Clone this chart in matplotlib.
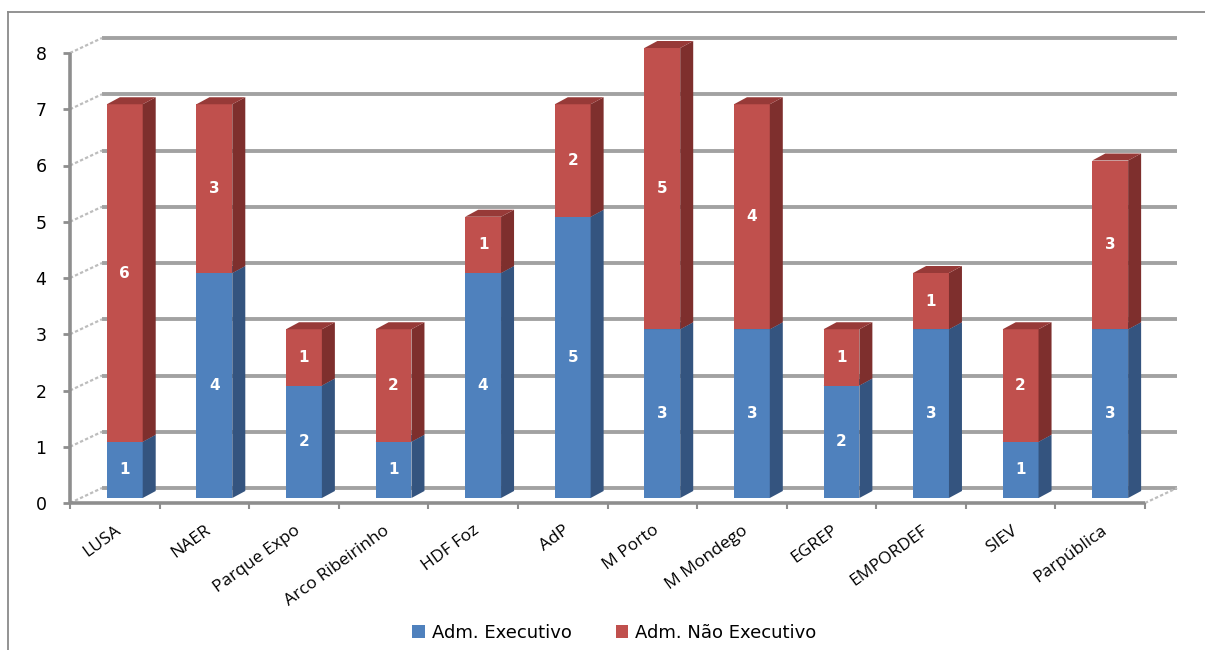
import matplotlib
matplotlib.use('Agg')
import matplotlib.pyplot as plt
import matplotlib.transforms as mtransforms
from matplotlib.patches import Polygon, Rectangle
from matplotlib.lines import Line2D
import numpy as np

# ---------------- data ----------------
categories = ['LUSA', 'NAER', 'Parque Expo', 'Arco Ribeirinho', 'HDF Foz', 'AdP',
              'M Porto', 'M Mondego', 'EGREP', 'EMPORDEF', 'SIEV', 'Parpública']
executivo = [1, 4, 2, 1, 4, 5, 3, 3, 2, 3, 1, 3]
nao_executivo = [6, 3, 1, 2, 1, 2, 5, 4, 1, 1, 2, 3]
series_names = ['Adm. Executivo', 'Adm. Não Executivo']
y_ticks = [0, 1, 2, 3, 4, 5, 6, 7, 8]

# ---------------- style ----------------
W, H = 1205, 650
DPI = 100
front_cols = ['#4F81BD', '#C0504D']
side_cols = ['#34547F', '#7E2F2D']
top_cols = ['#3F6798', '#973A38']
grid_col = '#A2A2A2'
axis_col = '#8E8E8E'

fig = plt.figure(figsize=(W / DPI, H / DPI), dpi=DPI)
ax = fig.add_axes([70 / W, 1 - 503 / H, 1075 / W, 450 / H])
n = len(categories)
ax.set_xlim(-0.5, n - 0.5)
ax.set_ylim(0, max(y_ticks))
for s in ax.spines.values():
    s.set_visible(False)

# pixel-per-unit to derive depth offsets in data units
px_x = 1075 / n
px_y = 450 / max(y_ticks)

def px_off(dx, dy):
    return mtransforms.ScaledTranslation(dx / DPI, dy / DPI, fig.dpi_scale_trans)

# back wall gridlines
wall_dx, wall_dy = 32, 15
back_tr = ax.transData + px_off(wall_dx, wall_dy)
for yv in y_ticks:
    ax.add_line(Line2D([-0.5, n - 0.5], [yv, yv], transform=back_tr, color=grid_col,
                       lw=2.8, zorder=0.5, clip_on=False, solid_capstyle='butt'))
    # left wall depth lines
    ax.add_line(Line2D([-0.5, -0.5 + wall_dx / px_x], [yv, yv + wall_dy / px_y],
                       transform=ax.transData, color='#BDBDBD', lw=1.6,
                       ls=(0, (1.5, 1)), zorder=0.6, clip_on=False))
# right floor depth line
ax.add_line(Line2D([n - 0.5, n - 0.5 + wall_dx / px_x], [0, wall_dy / px_y],
                   transform=ax.transData, color='#BDBDBD', lw=1.6,
                   ls=(0, (1.5, 1)), zorder=0.6, clip_on=False))

# front axes lines
ax.add_line(Line2D([-0.5, -0.5], [0, max(y_ticks)], color=axis_col, lw=2.6,
                   zorder=3, clip_on=False, solid_capstyle='butt'))
ax.add_line(Line2D([-0.5, n - 0.5], [0, 0], color=axis_col, lw=2.6,
                   zorder=3, clip_on=False, solid_capstyle='butt'))

# bars (3D look)
bar_tr = ax.transData + px_off(10, 5)
x = np.arange(n)
bw = 0.40
ddx, ddy = 13 / px_x, 7 / px_y
bottoms = np.zeros(n)
for k, vals in enumerate([executivo, nao_executivo]):
    vals = np.array(vals, dtype=float)
    ax.bar(x, vals, bw, bottom=bottoms, color=front_cols[k], transform=bar_tr,
           zorder=2 + k, linewidth=0, clip_on=False)
    for i in range(n):
        b = bottoms[i]
        t = b + vals[i]
        xl, xr = x[i] - bw / 2, x[i] + bw / 2
        ax.add_patch(Polygon([(xr, b), (xr + ddx, b + ddy), (xr + ddx, t + ddy), (xr, t)],
                             closed=True, transform=bar_tr, facecolor=side_cols[k],
                             edgecolor='none', zorder=2 + k, clip_on=False))
        ax.add_patch(Polygon([(xl, t), (xl + ddx, t + ddy), (xr + ddx, t + ddy), (xr, t)],
                             closed=True, transform=bar_tr, facecolor=top_cols[k],
                             edgecolor='none', zorder=2 + k, clip_on=False))
        ax.text(x[i], b + vals[i] / 2, f'{int(vals[i])}', transform=bar_tr,
                ha='center', va='center', color='white', fontsize=11,
                fontweight='bold', family='DejaVu Sans', zorder=5)
    bottoms = bottoms + vals

# y ticks
ax.set_yticks(y_ticks)
ax.set_yticklabels([str(v) for v in y_ticks], fontsize=12.5, family='DejaVu Sans')
ax.tick_params(axis='y', length=5, width=2, color=axis_col, pad=12)
for lab in ax.get_yticklabels():
    lab.set_horizontalalignment('right')

# x ticks: marks at boundaries, labels at centres
ax.set_xticks(np.arange(n + 1) - 0.5)
ax.set_xticklabels([])
ax.tick_params(axis='x', which='major', length=4, width=1.5, color=axis_col)
ax.set_xticks(x, minor=True)
ax.set_xticklabels(categories, minor=True, fontsize=12.5, family='Open Sans',
                   rotation=36, ha='right', va='top', rotation_mode='anchor')
ax.tick_params(axis='x', which='minor', length=0, pad=14)

# legend
handles = [Rectangle((0, 0), 1, 1, facecolor=c, edgecolor='none') for c in front_cols]
fig.legend(handles, series_names, loc='center', bbox_to_anchor=(0.510, 0.026),
           ncol=2, frameon=False, handlelength=0.7, handleheight=0.7,
           handletextpad=0.4, columnspacing=2.4,
           prop={'family': 'DejaVu Sans', 'size': 13})

# outer border (top and left visible)
fig.add_artist(Line2D([8 / W, 1.0], [1 - 12 / H, 1 - 12 / H], transform=fig.transFigure,
                      color='#8A8A8A', lw=1.3))
fig.add_artist(Line2D([8 / W, 8 / W], [1 - 12 / H, 0], transform=fig.transFigure,
                      color='#8A8A8A', lw=1.3))

fig.savefig('out.png', dpi=DPI, facecolor='white')
